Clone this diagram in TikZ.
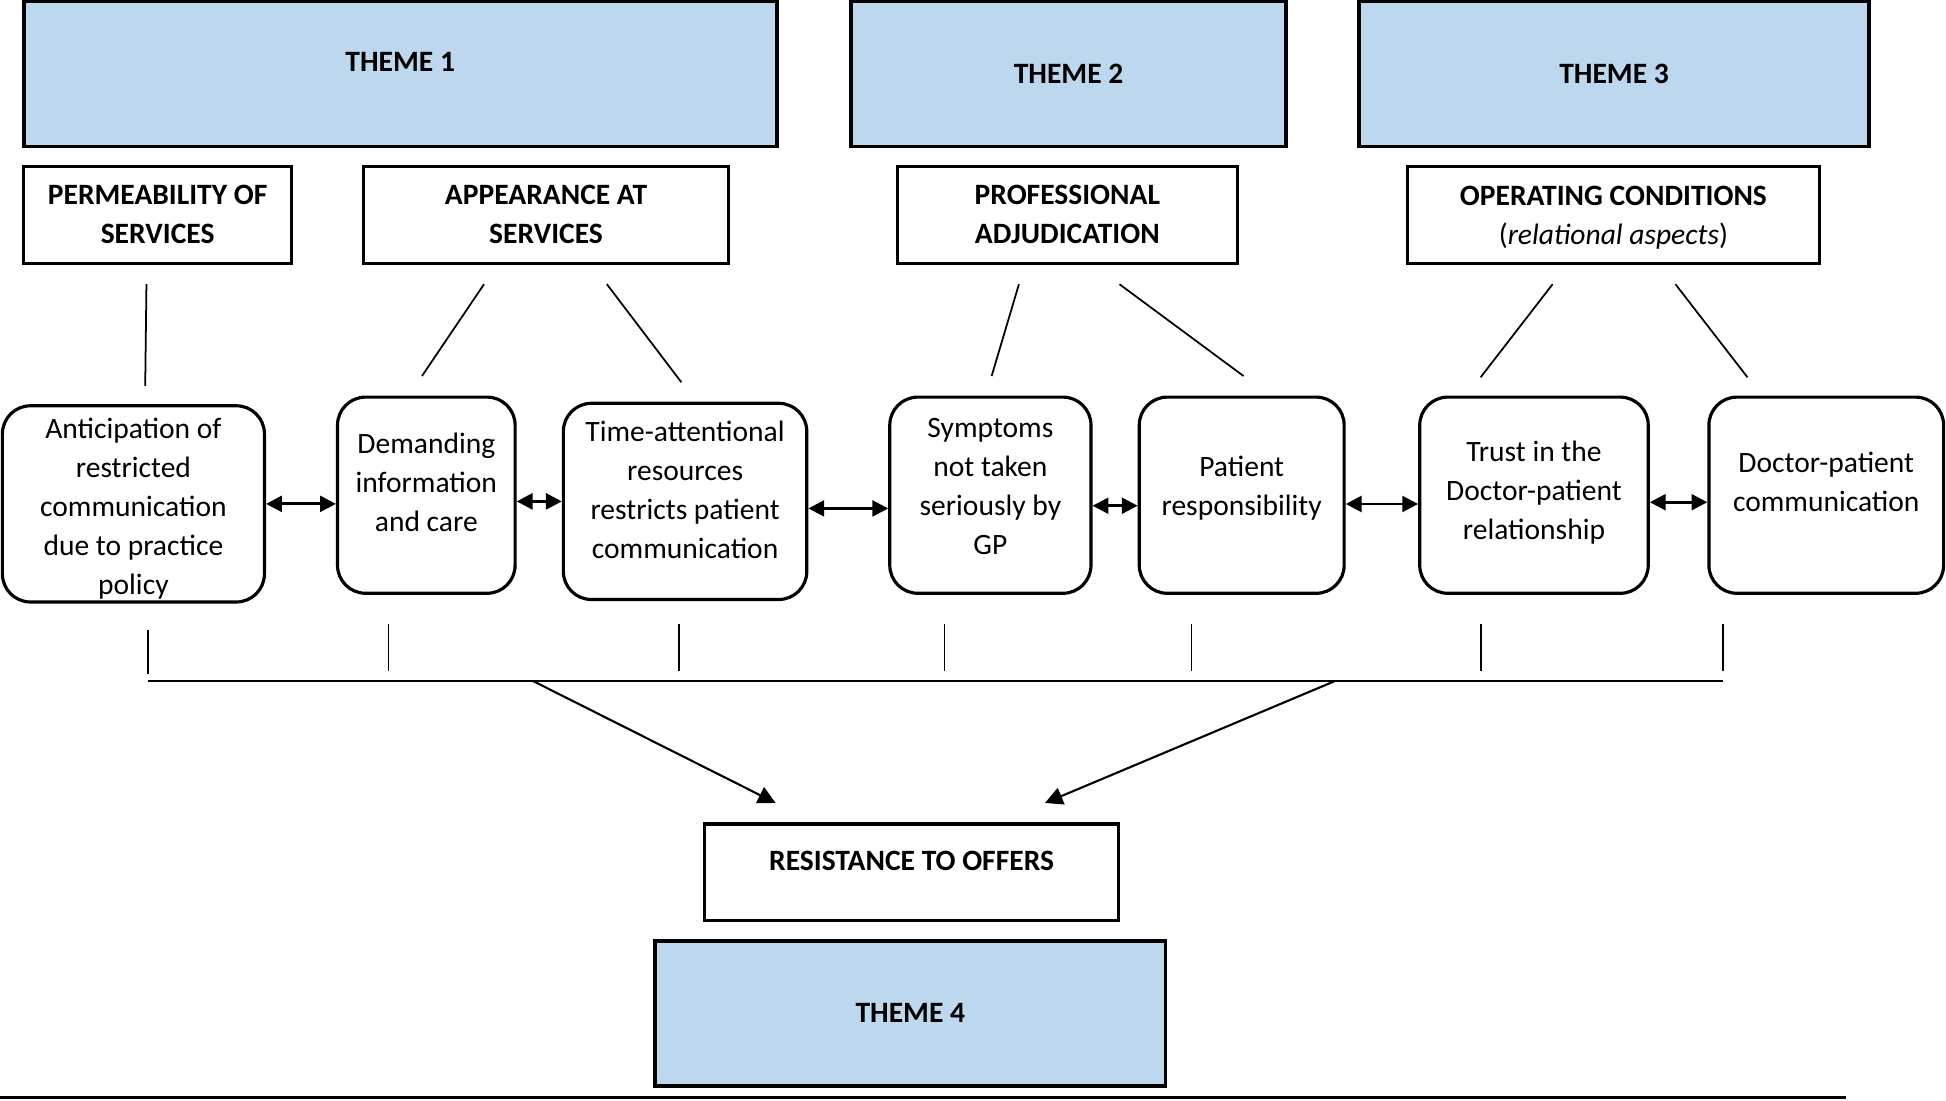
\documentclass[tikz,border=0pt]{standalone}
\usepackage{fontspec}
\setmainfont{Carlito}
\usepackage{xcolor}
\usetikzlibrary{arrows.meta,positioning}
\definecolor{themeblue}{RGB}{189,215,238}
\newcommand{\figfont}{\fontsize{8.4}{11.1}\selectfont}
\newcommand{\subtext}[2][2.5pt]{\raisebox{#1}[\height][\depth]{\begin{tabular}{@{}c@{}}#2\end{tabular}}}
\tikzset{
	theme/.style={draw, line width=1.1pt, fill=themeblue, minimum height=1.452cm, font=\figfont\bfseries},
	cat/.style={draw, line width=0.9pt, minimum height=0.968cm, align=center, font=\figfont\bfseries},
	sub/.style={draw, line width=0.9pt, rounded corners=0.28cm, minimum height=1.961cm, inner sep=0pt, font=\figfont},
	thin/.style={line width=0.5pt},
	link/.style={line width=0.8pt, {Triangle[length=4.5pt,width=4.5pt]}-{Triangle[length=4.5pt,width=4.5pt]}},
	feed/.style={line width=0.6pt, -{Triangle[length=5pt,width=5pt]}},
}

\begin{document}
\begin{tikzpicture}[x=0.012411cm, y=-0.012411cm]
			\useasboundingbox (0,0) rectangle (1568,887);
			
			\node[theme, minimum width=7.53cm, text depth=0.24cm] (t1) at (322.5,59.5) {THEME 1};
			\node[theme, minimum width=4.344cm] (t2) at (861,59.5) {THEME 2};
			\node[theme, minimum width=5.101cm] (t3) at (1300.5,59.5) {THEME 3};
			
			\node[cat, minimum width=2.681cm] (perm) at (127,173) {PERMEABILITY OF\\SERVICES};
			\node[cat, minimum width=3.649cm] (appear) at (440,173) {APPEARANCE AT\\SERVICES};
			\node[cat, minimum width=3.401cm] (prof) at (860,173) {PROFESSIONAL\\ADJUDICATION};
			\node[cat, minimum width=4.12cm, inner ysep=0pt] (oper) at (1300,173) {\subtext[-0.8pt]{OPERATING CONDITIONS\\{\mdseries(\textit{relational aspects})}}};
			
			\node[sub, minimum width=2.619cm] (antic) at (107.5,406) {\subtext[-1.4pt]{Anticipation of\\restricted\\communication\\due to practice\\policy}};
			\node[sub, minimum width=1.775cm] (demand) at (343.5,399) {\subtext[3pt]{Demanding\\information\\and care}};
			\node[sub, minimum width=2.433cm] (timeatt) at (552,404) {\subtext{Time-attentional\\resources\\restricts patient\\communication}};
			\node[sub, minimum width=2.011cm] (sympt) at (798,399) {\subtext[2.1pt]{Symptoms\\not taken\\seriously by\\GP}};
			\node[sub, minimum width=2.048cm] (patresp) at (1000.5,399) {\subtext[2.1pt]{Patient\\responsibility}};
			\node[sub, minimum width=2.284cm] (trust) at (1236,399) {\subtext[0.7pt]{Trust in the\\Doctor-patient\\relationship}};
			\node[sub, minimum width=2.346cm] (docpat) at (1471.5,399) {\subtext[3.2pt]{Doctor-patient\\communication}};
			
			\node[cat, minimum width=4.133cm, text depth=0.24cm] (resist) at (734.5,703) {RESISTANCE TO OFFERS};
			\node[theme, minimum width=5.101cm] (t4) at (733.5,816.5) {THEME 4};
			
			% links between categories and sub-themes
			\coordinate (u1a) at (118,229); \coordinate (u1b) at (117,311);
			\coordinate (u2a) at (390,229); \coordinate (u2b) at (340,303);
			\coordinate (u3a) at (489,229); \coordinate (u3b) at (549,308);
			\coordinate (u4a) at (821,229); \coordinate (u4b) at (799,303);
			\coordinate (u5a) at (902,229); \coordinate (u5b) at (1002,303);
			\coordinate (u6a) at (1251,229); \coordinate (u6b) at (1193,304);
			\coordinate (u7a) at (1350,229); \coordinate (u7b) at (1408,304);
			\draw[thin] (u1a) -- (u1b);
			\draw[thin] (u2a) -- (u2b);
			\draw[thin] (u3a) -- (u3b);
			\draw[thin] (u4a) -- (u4b);
			\draw[thin] (u5a) -- (u5b);
			\draw[thin] (u6a) -- (u6b);
			\draw[thin] (u7a) -- (u7b);
			
			\draw[link] (antic.east) -- (antic.east -| demand.west);
			\draw[link] (demand.east |- timeatt.west) -- (timeatt.west);
			\draw[link] ([yshift=-2pt]timeatt.east) -- ([yshift=-2pt]timeatt.east -| sympt.west);
			\draw[link] ([yshift=-3pt]sympt.east) -- ([yshift=-3pt]patresp.west);
			\draw[link] ([yshift=-2.5pt]patresp.east) -- ([yshift=-2.5pt]trust.west);
			\draw[link] ([yshift=-2pt]trust.east) -- ([yshift=-2pt]docpat.west);
			
			% drop lines and collecting line
			\coordinate (d1a) at (119,508); \coordinate (d1b) at (119,543);
			\coordinate (d2a) at (313,503); \coordinate (d2b) at (313,541);
			\coordinate (d3a) at (547,503); \coordinate (d3b) at (547,541);
			\coordinate (d4a) at (761,503); \coordinate (d4b) at (761,541);
			\coordinate (d5a) at (960,503); \coordinate (d5b) at (960,541);
			\coordinate (d6a) at (1193,503); \coordinate (d6b) at (1193,541);
			\coordinate (d7a) at (1388,503); \coordinate (d7b) at (1388,541);
			\draw[thin] (d1a) -- (d1b);
			\draw[thin] (d2a) -- (d2b);
			\draw[thin] (d3a) -- (d3b);
			\draw[thin] (d4a) -- (d4b);
			\draw[thin] (d5a) -- (d5b);
			\draw[thin] (d6a) -- (d6b);
			\draw[thin] (d7a) -- (d7b);
			\coordinate (busw) at (119,549); \coordinate (buse) at (1388,549);
			\draw[thin] (busw) -- (buse);
			
			\coordinate (fla) at (430,549); \coordinate (flb) at (625,647);
			\coordinate (fra) at (1075,549); \coordinate (frb) at (842,647);
			\draw[feed] (fla) -- (flb);
			\draw[feed] (fra) -- (frb);
			
			\coordinate (rulew) at (0,884); \coordinate (rulee) at (1487,884);
			\draw[line width=0.8pt] (rulew) -- (rulee);
		\end{tikzpicture}
\end{document}
